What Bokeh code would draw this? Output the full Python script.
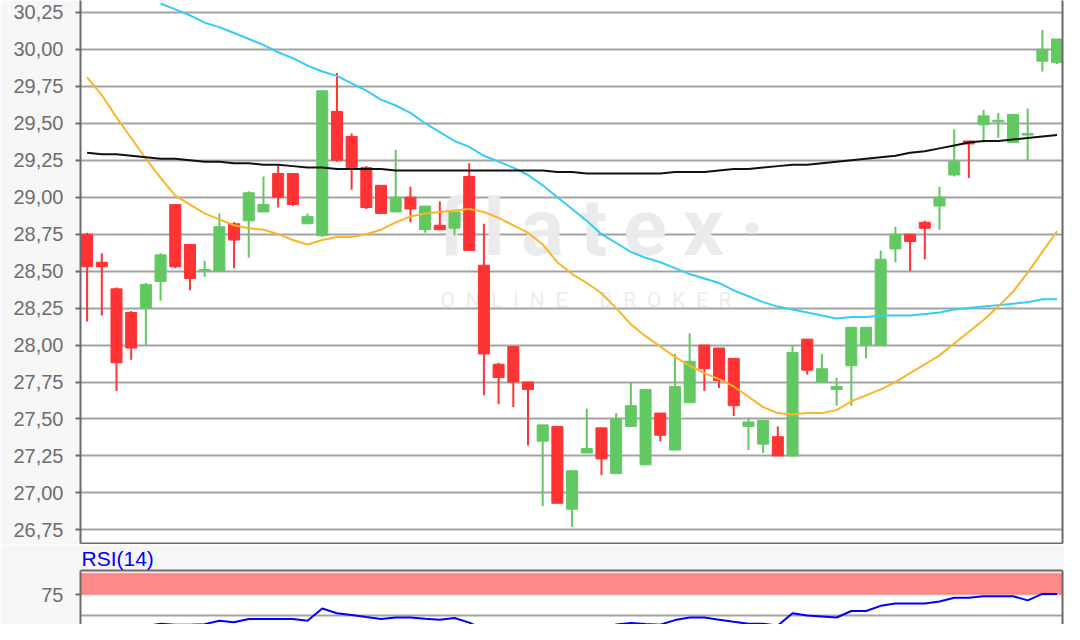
import math
from bokeh.plotting import figure
from bokeh.layouts import column
from bokeh.models import (ColumnDataSource, Range1d, FixedTicker, CustomJSTickFormatter,
                          LinearAxis, BoxAnnotation, Label)
from bokeh.embed import file_html
from bokeh.resources import INLINE

# ---------------- data ----------------
open_ = [28.75, 28.56, 28.38, 28.22, 28.25, 28.43, 28.95, 28.68, 28.50, 28.50,
         28.82, 28.84, 28.90, 29.16, 29.16, 28.82, 28.74, 29.58, 29.41, 29.20,
         29.08, 28.90, 29.00, 28.78, 28.81, 28.79, 29.14, 28.54, 27.87, 27.99,
         27.75, 27.35, 27.45, 26.89, 27.27, 27.44, 27.13, 27.45, 27.19, 27.54,
         27.29, 27.61, 28.00, 27.98, 27.91, 27.45, 27.33, 27.38, 27.25, 28.04,
         27.75, 27.70, 27.86, 28.00, 28.00, 28.65, 28.75, 28.83, 28.94, 29.15,
         29.38, 29.49, 29.51, 29.37, 29.42, 29.92, 29.91]
high = [28.76, 28.62, 28.39, 28.23, 28.42, 28.62, 28.95, 28.68, 28.57, 28.89,
        28.83, 29.04, 29.14, 29.21, 29.16, 28.89, 29.72, 29.84, 29.43, 29.21,
        29.08, 29.32, 29.07, 28.94, 28.97, 28.90, 29.23, 28.82, 27.88, 27.99,
        27.75, 27.46, 27.45, 27.15, 27.57, 27.44, 27.54, 27.75, 27.70, 27.54,
        27.94, 28.08, 28.00, 27.98, 27.91, 27.51, 27.49, 27.45, 28.00, 28.04,
        27.94, 27.78, 28.12, 28.12, 28.64, 28.80, 28.75, 28.84, 29.07, 29.46,
        29.38, 29.59, 29.57, 29.56, 29.60, 30.13, 30.07]
low = [28.16, 28.20, 27.69, 27.90, 28.00, 28.30, 28.52, 28.37, 28.46, 28.50,
       28.52, 28.59, 28.90, 28.93, 28.94, 28.82, 28.73, 29.24, 29.05, 28.92,
       28.89, 28.90, 28.83, 28.76, 28.78, 28.74, 28.64, 27.66, 27.60, 27.58,
       27.32, 26.91, 26.93, 26.77, 27.27, 27.12, 27.13, 27.45, 27.19, 27.35,
       27.29, 27.61, 27.69, 27.71, 27.52, 27.29, 27.27, 27.25, 27.25, 27.80,
       27.75, 27.59, 27.59, 27.91, 28.00, 28.56, 28.50, 28.58, 28.78, 29.14,
       29.13, 29.37, 29.40, 29.37, 29.25, 29.85, 29.90]
close = [28.53, 28.53, 27.88, 27.98, 28.41, 28.61, 28.53, 28.45, 28.51, 28.80,
         28.71, 29.03, 28.95, 29.00, 28.95, 28.87, 29.72, 29.25, 29.20, 28.93,
         28.89, 29.00, 28.92, 28.94, 28.78, 28.90, 28.64, 27.94, 27.78, 27.75,
         27.70, 27.46, 26.93, 27.15, 27.30, 27.23, 27.50, 27.59, 27.70, 27.39,
         27.72, 27.89, 27.84, 27.76, 27.59, 27.48, 27.49, 27.25, 27.95, 27.83,
         27.84, 27.72, 28.12, 28.12, 28.58, 28.75, 28.70, 28.79, 29.00, 29.24,
         29.36, 29.55, 29.52, 29.56, 29.43, 30.00, 30.07]
ma_orange = [29.81, 29.69, 29.54, 29.40, 29.26, 29.13, 29.01, 28.95, 28.89, 28.85,
             28.81, 28.79, 28.78, 28.75, 28.71, 28.68, 28.71, 28.73, 28.73, 28.75,
             28.78, 28.83, 28.87, 28.89, 28.90, 28.91, 28.92, 28.90, 28.86, 28.81,
             28.76, 28.68, 28.56, 28.48, 28.42, 28.35, 28.25, 28.14, 28.06, 27.99,
             27.92, 27.86, 27.81, 27.77, 27.72, 27.65, 27.58, 27.54, 27.53, 27.54,
             27.54, 27.56, 27.62, 27.66, 27.70, 27.75, 27.81, 27.87, 27.93, 28.01,
             28.09, 28.17, 28.26, 28.36, 28.49, 28.63, 28.77]
ma_cyan = [math.nan, math.nan, math.nan, math.nan, math.nan, 30.31, 30.27, 30.23, 30.18, 30.15,
           30.11, 30.07, 30.03, 29.98, 29.94, 29.89, 29.85, 29.82, 29.77, 29.72,
           29.66, 29.62, 29.57, 29.50, 29.44, 29.38, 29.34, 29.28, 29.24, 29.20,
           29.15, 29.08, 29.00, 28.92, 28.84, 28.75, 28.69, 28.63, 28.59, 28.56,
           28.52, 28.48, 28.45, 28.42, 28.37, 28.33, 28.29, 28.26, 28.24, 28.22,
           28.20, 28.18, 28.19, 28.19, 28.20, 28.20, 28.20, 28.21, 28.22, 28.24,
           28.25, 28.26, 28.27, 28.28, 28.29, 28.31, 28.31]
ma_black = [29.30, 29.29, 29.29, 29.28, 29.27, 29.26, 29.26, 29.25, 29.24, 29.24,
            29.23, 29.23, 29.22, 29.22, 29.21, 29.20, 29.20, 29.19, 29.19, 29.19,
            29.19, 29.18, 29.18, 29.18, 29.18, 29.18, 29.18, 29.18, 29.18, 29.18,
            29.18, 29.18, 29.17, 29.17, 29.16, 29.16, 29.16, 29.16, 29.16, 29.16,
            29.17, 29.17, 29.17, 29.18, 29.19, 29.19, 29.20, 29.21, 29.22, 29.22,
            29.23, 29.24, 29.25, 29.26, 29.27, 29.28, 29.30, 29.31, 29.33, 29.35,
            29.37, 29.38, 29.38, 29.39, 29.40, 29.41, 29.42]
rsi = [35, 36, 32, 34, 38, 40.6, 39.4, 39.6, 40.2, 44.3,
       42.4, 46.2, 46.2, 46.2, 46.2, 44.3, 58.7, 53, 51, 48.5,
       46.2, 48, 48, 46.5, 45.5, 47.4, 42, 34, 33, 31,
       30, 33, 28, 32, 33, 33, 39.8, 41.5, 40.5, 39.6,
       45, 48, 48, 45.5, 43, 40.6, 40.6, 38.6, 53, 50.3,
       49.3, 48, 55.7, 55.7, 61.8, 64.4, 64.4, 64.4, 67, 71.3,
       71.3, 73.1, 73.1, 73.1, 68.2, 75.8, 75.8]
price_ticks = [26.75, 27.00, 27.25, 27.50, 27.75, 28.00, 28.25, 28.50,
               28.75, 29.00, 29.25, 29.50, 29.75, 30.00, 30.25]
rsi_ticks = [25, 75]
rsi_grid = [50]
rsi_label = "RSI(14)"

# ---------------- styling ----------------
GREEN = "#62c962"
RED = "#ff3333"
GRID = "#a3a3a3"
AXIS = "#6b6b6b"
LABEL = "#6e6e6e"
BG = "#f7f7f7"
FONT = "Liberation Sans"

idx = list(range(1, len(open_) + 1))
src = ColumnDataSource(dict(
    x=idx, o=open_, h=high, l=low, c=close,
    top=[max(a, b) for a, b in zip(open_, close)],
    bot=[min(a, b) for a, b in zip(open_, close)],
    col=[GREEN if c >= o else RED for o, c in zip(open_, close)],
))
ma_src = ColumnDataSource(dict(x=idx, orange=ma_orange, cyan=ma_cyan, black=ma_black, rsi=rsi))

X0, X1 = 0.551, 67.37
Y0, Y1 = 26.658, 30.33


def border_axis(fig, side):
    ax = LinearAxis(ticker=FixedTicker(ticks=[]), major_tick_out=0, major_tick_in=0,
                    minor_tick_out=0, minor_tick_in=0, major_label_standoff=0,
                    major_label_text_font_size="0px", axis_line_color=AXIS, axis_line_width=2)
    fig.add_layout(ax, side)


def style_yaxis(ax):
    ax.major_label_text_font = FONT
    ax.major_label_text_font_size = "20px"
    ax.major_label_text_color = LABEL
    ax.major_label_standoff = 12
    ax.major_tick_out = 5
    ax.major_tick_in = 0
    ax.minor_tick_line_color = None
    ax.major_tick_line_color = AXIS
    ax.major_tick_line_width = 2
    ax.axis_line_color = AXIS
    ax.axis_line_width = 2


# ---------------- main price chart ----------------
p = figure(width=1064, height=544, x_range=Range1d(X0, X1), y_range=Range1d(Y0, Y1),
           output_backend="svg", toolbar_location=None, x_axis_location=None,
           min_border_left=80, min_border_right=2, min_border_top=0, min_border_bottom=1,
           background_fill_color="white", border_fill_color=BG, outline_line_color=None)
p.xgrid.visible = False
p.ygrid.ticker = FixedTicker(ticks=price_ticks)
p.ygrid.grid_line_color = GRID
p.ygrid.grid_line_width = 2

yax = p.yaxis[0]
yax.ticker = FixedTicker(ticks=price_ticks)
yax.formatter = CustomJSTickFormatter(code="return tick.toFixed(2).replace('.', ',');")
style_yaxis(yax)
border_axis(p, "below")
border_axis(p, "right")

# watermark
p.add_layout(Label(x=358, y=316, x_units="screen", y_units="screen",
                   text="f\u2009l\u2009a\u2009t\u2009e\u2009x\u2009\u00b7",
                   text_font="Roboto", text_font_style="bold", text_font_size="80px",
                   text_color="#ebebeb", text_baseline="alphabetic", level="underlay"))
p.add_layout(Label(x=360, y=244, x_units="screen", y_units="screen",
                   text="O\u2002N\u2002L\u2002I\u2002N\u2002E\u2002\u2002\u2002B\u2002R\u2002O\u2002K\u2002E\u2002R",
                   text_font="Roboto", text_font_size="21px",
                   text_color="#ededed", text_baseline="alphabetic", level="underlay"))

p.segment(x0="x", y0="l", x1="x", y1="h", color="col", line_width=2, source=src)
p.vbar(x="x", width=0.75, top="top", bottom="bot", fill_color="col", line_color="col",
       line_width=1, source=src)
p.line("x", "cyan", source=ma_src, line_color="#35cdf5", line_width=2)
p.line("x", "orange", source=ma_src, line_color="#fbb52a", line_width=2)
p.line("x", "black", source=ma_src, line_color="#111111", line_width=2)

# ---------------- RSI panel ----------------
r = figure(width=1064, height=80, x_range=p.x_range, y_range=Range1d(39.8, 103.4),
           output_backend="svg", toolbar_location=None, x_axis_location=None,
           title=rsi_label,
           min_border_left=80, min_border_right=2, min_border_top=25, min_border_bottom=0,
           background_fill_color="white", border_fill_color=BG, outline_line_color=None)
r.title.text_color = "#0000ff"
r.title.text_font = FONT
r.title.text_font_size = "21px"
r.title.text_font_style = "normal"
r.title.align = "left"
r.title.standoff = 1
r.title.offset = 1
r.xgrid.visible = False
r.ygrid.ticker = FixedTicker(ticks=rsi_grid)
r.ygrid.grid_line_color = GRID
r.ygrid.grid_line_width = 2
rax = r.yaxis[0]
rax.ticker = FixedTicker(ticks=rsi_ticks)
style_yaxis(rax)
border_axis(r, "above")
border_axis(r, "right")

r.add_layout(BoxAnnotation(bottom=75, top=100, fill_color="#ff8888", fill_alpha=1.0,
                           line_color="#d65c5c", line_width=2, level="underlay"))
r.line("x", "rsi", source=ma_src, line_color="#0000ff", line_width=2)

layout = column(p, r, spacing=0)
open("out.html", "w").write(file_html(layout, INLINE))
